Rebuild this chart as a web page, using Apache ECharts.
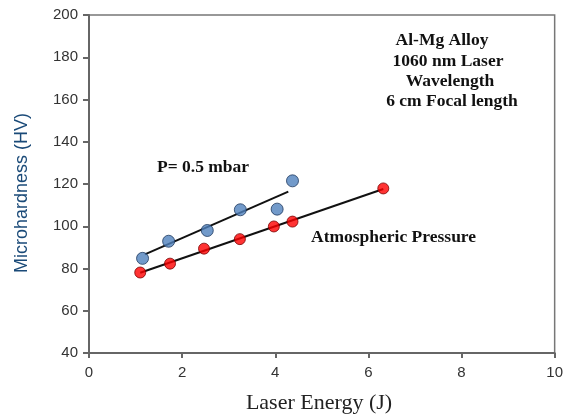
<!DOCTYPE html>
<html>
<head>
<meta charset="utf-8">
<script src="https://cdn.jsdelivr.net/npm/echarts@6/dist/echarts.min.js"></script>
<style>
  html, body { margin: 0; padding: 0; background: #fff; }
  #container { width: 566px; height: 416px; }
</style>
</head>
<body>
<div id="container"></div>
<script>
// Dados
var energyLow = [1.15, 1.71, 2.54, 3.25, 4.04, 4.37];
var hardnessLow = [84.8, 92.9, 98.0, 107.8, 108.1, 121.5];

var energyAtm = [1.10, 1.74, 2.47, 3.24, 3.97, 4.37, 6.32];
var hardnessAtm = [78.1, 82.3, 89.4, 93.9, 99.9, 102.2, 117.9];

// Retas de ajuste (pontos inicial e final)
var fitLowX = [1.2, 4.28];
var fitLowY = [86.7, 116.4];
var fitAtmX = [1.1, 6.32];
var fitAtmY = [78.0, 117.6];

var xTicks = [0, 2, 4, 6, 8, 10];
var yTicks = [40, 60, 80, 100, 120, 140, 160, 180, 200];

function pairs(xs, ys) {
    return xs.map(function (x, i) { return [x, ys[i]]; });
}

var dom = document.getElementById('container');
var myChart = echarts.init(dom, null, { renderer: 'canvas' });

var boldSerif = 'bold 17.5px "Liberation Serif", "Times New Roman", serif';
var sans = '"Liberation Sans", Arial, sans-serif';

var option = {
    animation: false,
    backgroundColor: '#fff',
    grid: { left: 89, right: 9, top: 15, bottom: 63, show: true, borderColor: '#777', borderWidth: 1.5 },
    xAxis: {
        type: 'value',
        min: xTicks[0],
        max: xTicks[xTicks.length - 1],
        interval: 2,
        axisLine: { lineStyle: { color: '#666', width: 2 } },
        axisTick: { show: true, length: 5, lineStyle: { color: '#666', width: 2 } },
        axisLabel: { fontFamily: sans, fontSize: 15, color: '#333', margin: 12 },
        splitLine: { show: false }
    },
    yAxis: {
        type: 'value',
        min: yTicks[0],
        max: yTicks[yTicks.length - 1],
        interval: 20,
        axisLine: { lineStyle: { color: '#666', width: 2 } },
        axisTick: { show: true, length: 6, lineStyle: { color: '#666', width: 2 } },
        axisLabel: { fontFamily: sans, fontSize: 15, color: '#333', margin: 11 },
        splitLine: { show: false }
    },
    series: [
        {
            name: 'fit 0.5 mbar',
            type: 'line',
            data: pairs(fitLowX, fitLowY),
            symbol: 'none',
            lineStyle: { color: '#111', width: 2 },
            z: 2
        },
        {
            name: 'fit atm',
            type: 'line',
            data: pairs(fitAtmX, fitAtmY),
            symbol: 'none',
            lineStyle: { color: '#111', width: 2 },
            z: 2
        },
        {
            name: 'P= 0.5 mbar',
            type: 'scatter',
            data: pairs(energyLow, hardnessLow),
            symbolSize: 12,
            itemStyle: { color: '#4f81bd', borderColor: '#1f3a5f', borderWidth: 1 },
            z: 3
        },
        {
            name: 'Atmospheric Pressure',
            type: 'scatter',
            data: pairs(energyAtm, hardnessAtm),
            symbolSize: 11,
            itemStyle: { color: '#ff0000', borderColor: '#7a0000', borderWidth: 1 },
            z: 3
        }
    ],
    graphic: [
        // títulos dos eixos
        { type: 'text', x: 22, y: 193, rotation: Math.PI / 2,
          style: { text: 'Microhardness (HV)', font: '18px ' + sans, fill: '#1a4a78', align: 'center', verticalAlign: 'middle' } },
        { type: 'text', x: 319, y: 403,
          style: { text: 'Laser Energy (J)', font: '22px "Liberation Serif", serif', fill: '#222', align: 'center', verticalAlign: 'middle' } },
        // anotações
        { type: 'text', left: 157, top: 158, style: { text: 'P= 0.5 mbar', font: boldSerif, fill: '#111' } },
        { type: 'text', left: 311, top: 228, style: { text: 'Atmospheric Pressure', font: boldSerif, fill: '#111' } },
        { type: 'text', x: 442, y: 40, style: { text: 'Al-Mg Alloy', font: boldSerif, fill: '#111', align: 'center', verticalAlign: 'middle' } },
        { type: 'text', x: 448, y: 61, style: { text: '1060 nm Laser', font: boldSerif, fill: '#111', align: 'center', verticalAlign: 'middle' } },
        { type: 'text', x: 450, y: 81, style: { text: 'Wavelength', font: boldSerif, fill: '#111', align: 'center', verticalAlign: 'middle' } },
        { type: 'text', x: 452, y: 101, style: { text: '6 cm Focal length', font: boldSerif, fill: '#111', align: 'center', verticalAlign: 'middle' } }
    ]
};

myChart.setOption(option);

window.addEventListener('resize', function () {
    myChart.resize();
});
</script>
</body>
</html>
